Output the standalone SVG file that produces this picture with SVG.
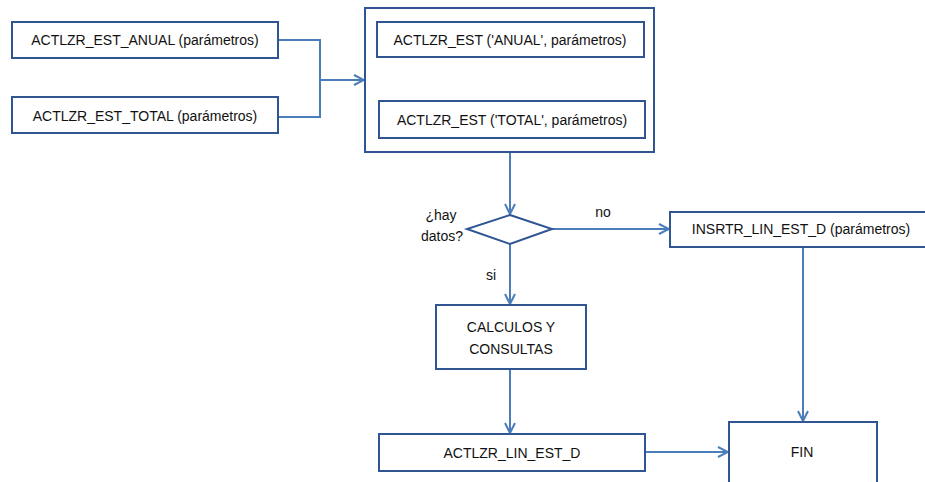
<svg xmlns="http://www.w3.org/2000/svg" width="925" height="482" viewBox="0 0 925 482">
  <style>
    .box { fill: #ffffff; stroke: #2f5593; stroke-width: 2; }
    .lbl { font-family: "Liberation Sans", Arial, sans-serif; font-size: 14px; fill: #111111; }
    .mid { text-anchor: middle; dominant-baseline: central; }
    .wire { fill: none; stroke: #4a7ebb; stroke-width: 2; }
    .arrow { marker-end: url(#head); }
  </style>
  <defs>
    <marker id="head" viewBox="0 0 12 12" refX="11" refY="6" markerWidth="12" markerHeight="12" markerUnits="userSpaceOnUse" orient="auto">
      <path d="M1 1 L11 6 L1 11" fill="none" stroke="#4a7ebb" stroke-width="2"/>
    </marker>
  </defs>

  <rect width="925" height="482" fill="#ffffff"/>

  <!-- connectors -->
  <g id="connectors">
    <polyline class="wire" points="278,40 320,40 320,117 278,117"/>
    <line class="wire arrow" x1="320" y1="80" x2="364" y2="80"/>
    <line class="wire arrow" x1="510" y1="152" x2="510" y2="214"/>
    <line class="wire arrow" x1="552" y1="229" x2="669" y2="229"/>
    <line class="wire arrow" x1="510" y1="244" x2="510" y2="304"/>
    <line class="wire arrow" x1="510" y1="369" x2="510" y2="433"/>
    <line class="wire arrow" x1="803" y1="247" x2="803" y2="421"/>
    <line class="wire arrow" x1="645" y1="452" x2="728" y2="452"/>
  </g>

  <g id="actlzr-est-anual">
    <rect class="box" x="12" y="22" width="266" height="36"/>
    <text class="lbl mid" x="145" y="40">ACTLZR_EST_ANUAL (parámetros)</text>
  </g>

  <g id="actlzr-est-total">
    <rect class="box" x="12" y="97" width="266" height="36"/>
    <text class="lbl mid" x="145" y="116">ACTLZR_EST_TOTAL (parámetros)</text>
  </g>

  <g id="actlzr-est-group">
    <rect class="box" x="365" y="8" width="289" height="144"/>
  </g>

  <g id="actlzr-est-anual-call">
    <rect class="box" x="377" y="22" width="267" height="35"/>
    <text class="lbl mid" x="510" y="40">ACTLZR_EST ('ANUAL', parámetros)</text>
  </g>

  <g id="actlzr-est-total-call">
    <rect class="box" x="379" y="101" width="266" height="37"/>
    <text class="lbl mid" x="512" y="120">ACTLZR_EST ('TOTAL', parámetros)</text>
  </g>

  <g id="hay-datos">
    <polygon class="box" points="510,215 552,229 510,244 467,229"/>
    <text class="lbl" x="441" y="215" text-anchor="middle" dominant-baseline="central">¿hay</text>
    <text class="lbl" x="442" y="236" text-anchor="middle" dominant-baseline="central">datos?</text>
    <text class="lbl mid" x="603" y="212">no</text>
    <text class="lbl mid" x="491" y="275">si</text>
  </g>

  <g id="insrtr-lin-est-d">
    <rect class="box" x="670" y="212" width="262" height="35"/>
    <text class="lbl mid" x="801" y="229">INSRTR_LIN_EST_D (parámetros)</text>
  </g>

  <g id="calculos">
    <rect class="box" x="436" y="305" width="150" height="64"/>
    <text class="lbl mid" x="511" y="327">CALCULOS Y</text>
    <text class="lbl mid" x="511" y="349">CONSULTAS</text>
  </g>

  <g id="actlzr-lin-est-d">
    <rect class="box" x="379" y="434" width="266" height="37"/>
    <text class="lbl mid" x="512" y="453">ACTLZR_LIN_EST_D</text>
  </g>

  <g id="fin">
    <rect class="box" x="729" y="422" width="148" height="70"/>
    <text class="lbl mid" x="802" y="452">FIN</text>
  </g>
</svg>
